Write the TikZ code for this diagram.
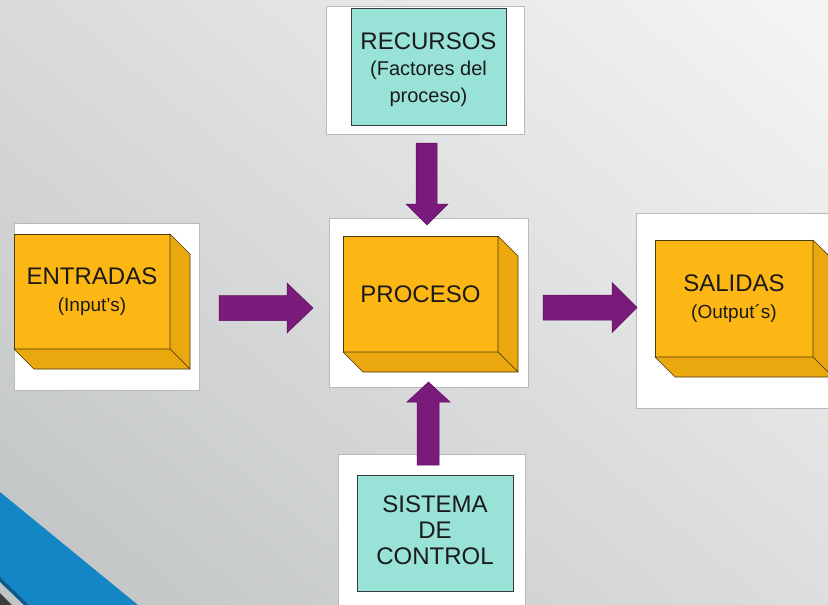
\documentclass[tikz,border=0pt]{standalone}
\usepackage{fontspec}
\setmainfont{Liberation Sans}
\usetikzlibrary{calc}
\definecolor{bglight}{HTML}{F3F3F3}
\definecolor{bgdark}{HTML}{C2C5C6}
\definecolor{boxfront}{HTML}{FDB714}
\definecolor{boxside}{HTML}{EAA80E}
\definecolor{boxline}{HTML}{4A3A10}
\definecolor{tealfill}{HTML}{98E2D8}
\definecolor{tealline}{HTML}{3A3A3A}
\definecolor{arrowpurple}{HTML}{7A1B7B}
\definecolor{arrowedge}{HTML}{5E0F5E}
\definecolor{stripeblue}{HTML}{1485C5}
\definecolor{stripedark}{HTML}{0B5A8C}
\definecolor{cornergray}{HTML}{3C3C3C}
\definecolor{textdark}{HTML}{1A1A1A}
\tikzset{
  panel/.style={draw=gray!55, fill=white, line width=0.8pt, inner sep=0pt, outer sep=0pt},
  frontbox/.style={draw=boxline, fill=boxfront, line width=0.7pt, inner sep=0pt, outer sep=0pt, align=center, text=textdark, font=\fontsize{24}{27}\selectfont},
  sideface/.style={draw=boxline, fill=boxside, line width=0.7pt, line join=round},
  tealbox/.style={draw=tealline, fill=tealfill, line width=0.8pt, inner sep=0pt, outer sep=0pt},
  tealtext/.style={align=center, text=textdark, inner sep=0pt, font=\fontsize{24}{27}\selectfont},
  blockarrow/.style={fill=arrowpurple, draw=arrowedge, line width=0.5pt, line join=miter},
}
\begin{document}
\begin{tikzpicture}[x=1pt,y=-1pt]
\useasboundingbox (0,0) rectangle (828,605);
\clip (0,0) rectangle (828,605);
% background
\shade[top color=bglight, bottom color=bgdark, shading angle=-40] (-100,-100) rectangle (928,705);
% corner stripe
\fill[stripeblue] (0,492) -- (138,605) -- (29,605) -- (0,577) -- cycle;
\fill[stripedark] (0,577) -- (29,605) -- (24,605) -- (0,582) -- cycle;
\fill[cornergray] (0,593) -- (12,605) -- (0,605) -- cycle;

% white panels
\node[panel, minimum width=185pt, minimum height=167pt] (entp) at (106.5,306.5) {};
\node[panel, minimum width=198pt, minimum height=128pt] (recp) at (425,70) {};
\node[panel, minimum width=199pt, minimum height=169pt] (procp) at (428.5,302.5) {};
\node[panel, minimum width=196pt, minimum height=195pt] (salp) at (734,310.5) {};
\node[panel, minimum width=187pt, minimum height=158pt] (sisp) at (431.5,533) {};

% 3D boxes
\node[frontbox, minimum width=156pt, minimum height=115pt] (ent) at (92,291.5)
  {ENTRADAS\\{\fontsize{19}{28}\selectfont (Input’s)}};
\node[frontbox, minimum width=155pt, minimum height=116pt] (proc) at (420.5,294) {PROCESO};
\node[frontbox, minimum width=158pt, minimum height=117pt] (sal) at (734,298.5)
  {SALIDAS\\{\fontsize{19}{26}\selectfont (Output´s)}};
\foreach \b in {ent,proc,sal}{
  \filldraw[sideface] (\b.north east) -- ++(20,20) -- ($(\b.south east)+(20,20)$) -- (\b.south east) -- cycle;
  \filldraw[sideface] (\b.south west) -- ++(20,20) -- ($(\b.south east)+(20,20)$) -- (\b.south east) -- cycle;
}

% teal boxes
\node[tealbox, minimum width=155pt, minimum height=117pt] (rec) at (428.5,66.5) {};
\node[tealtext] (rectext) at ($(rec.center)+(0,3)$)
  {RECURSOS\\[-1pt]{\fontsize{20}{28}\selectfont (Factores del}\\{\fontsize{20}{28}\selectfont proceso)}};
\node[tealbox, minimum width=156pt, minimum height=116pt] (sis) at (435,533) {};
\node[tealtext] (sistext) at ($(sis.center)+(0,-3)$)
  {SISTEMA\\[-1pt]DE\\[-1pt]CONTROL};

% block arrows
\coordinate (a1) at (219,308);
\filldraw[blockarrow] (a1) ++(0,-12.5) -- (287,295.5) -- (287,283) -- (313,308) -- (287,333) -- (287,320.5) -- (219,320.5) -- cycle;
\coordinate (a2) at (543,307.5);
\filldraw[blockarrow] (a2) ++(0,-12.5) -- (612,295) -- (612,282.5) -- (637,307.5) -- (612,332.5) -- (612,320) -- (543,320) -- cycle;
\coordinate (a3) at (426.5,143);
\filldraw[blockarrow] (a3) ++(-10.5,0) -- (437,143) -- (437,204) -- (448,204) -- (427,225) -- (406,204) -- (416,204) -- cycle;
\coordinate (a4) at (428,465);
\filldraw[blockarrow] (a4) ++(-11,0) -- (439,465) -- (439,402) -- (450,402) -- (428.5,382) -- (407,402) -- (417,402) -- cycle;
\end{tikzpicture}
\end{document}
